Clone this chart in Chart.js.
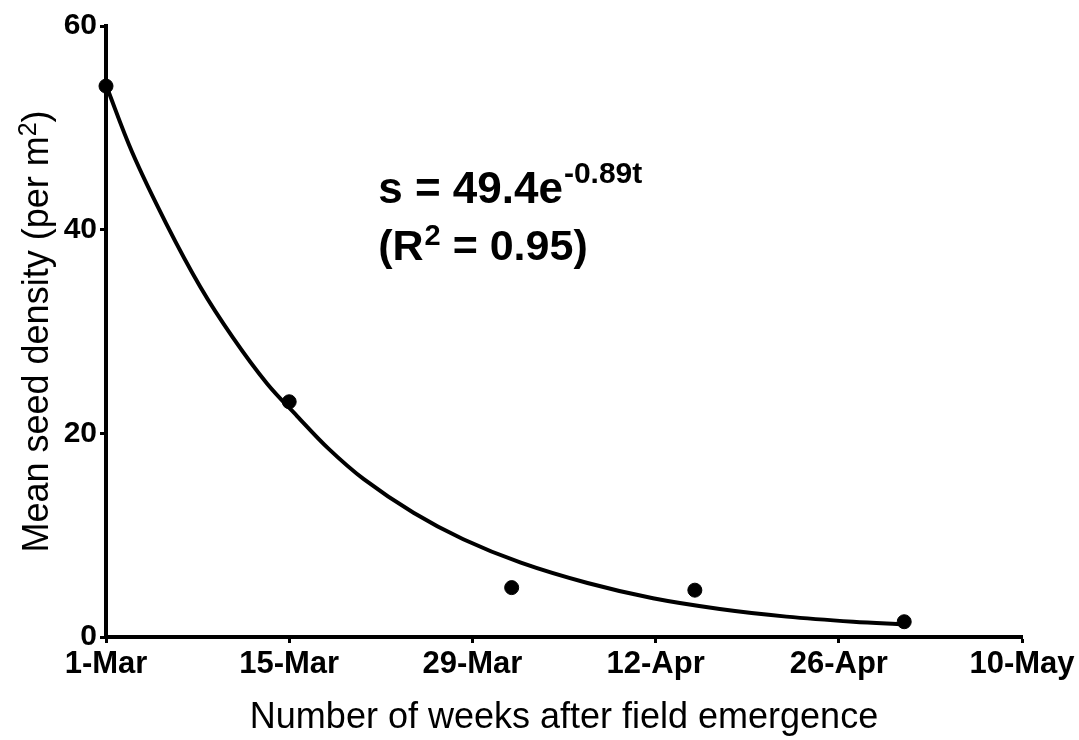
<!DOCTYPE html>
<html>
<head>
<meta charset="utf-8">
<script src="https://cdn.jsdelivr.net/npm/chart.js@4.4.0/dist/chart.umd.min.js"></script>
<style>
  body { margin: 0; background: #fff; }
  #wrap { width: 1079px; height: 740px; }
</style>
</head>
<body>
<div id="wrap"><canvas id="myChart" width="1079" height="740"></canvas></div>
<script>
// x axis runs in days from 1 March, ticks every two weeks
var tickLabels = ['1-Mar', '15-Mar', '29-Mar', '12-Apr', '26-Apr', '10-May'];

// observed means
var obsDays = [0, 14, 31, 45, 61];
var obsDensity = [54.1, 23.1, 4.85, 4.6, 1.5];

// fitted curve
var fitDays = [0, 2, 4.6, 7.2, 9.7, 12.3, 14.6, 17, 19.7, 23.5, 27.3, 31.7, 36.8, 41.8, 46.9, 52, 57.1, 61];
var fitDensity = [54.2, 47.6, 40.6, 34.4, 29.4, 24.9, 21.7, 18.5, 15.5, 12.2, 9.6, 7.3, 5.3, 3.8, 2.75, 2.0, 1.5, 1.25];

var FONT = "'Liberation Sans', Arial, sans-serif";

var fitPts = fitDays.map(function(d, i) { return {x: d, y: fitDensity[i]}; });
var obsPts = obsDays.map(function(d, i) { return {x: d, y: obsDensity[i]}; });

// text drawn over the chart: y title with superscript and the equation
var textPlugin = {
    id: 'texts',
    afterDraw: function(chart) {
        var ctx = chart.ctx;
        var area = chart.chartArea;
        var xs = chart.scales.x, ys = chart.scales.y;
        ctx.save();
        ctx.fillStyle = '#000';
        ctx.textBaseline = 'alphabetic';
        ctx.textAlign = 'left';

        // y axis title
        var main = 'Mean seed density (per m', sup = '2', tail = ')';
        ctx.font = '36px ' + FONT;
        var w1 = ctx.measureText(main).width;
        var w3 = ctx.measureText(tail).width;
        ctx.font = '25px ' + FONT;
        var w2 = ctx.measureText(sup).width;
        var total = w1 + w2 + w3;
        ctx.translate(48, (area.top + area.bottom) / 2);
        ctx.rotate(-Math.PI / 2);
        ctx.font = '36px ' + FONT;
        ctx.fillText(main, -total / 2, 0);
        ctx.font = '25px ' + FONT;
        ctx.fillText(sup, -total / 2 + w1, -12);
        ctx.font = '36px ' + FONT;
        ctx.fillText(tail, -total / 2 + w1 + w2, 0);
        ctx.setTransform(1, 0, 0, 1, 0, 0);

        // equation
        var ax = xs.getPixelForValue(20.8);
        var y1 = ys.getPixelForValue(42.6);
        var y2 = ys.getPixelForValue(37.0);
        ctx.font = 'bold 44px ' + FONT;
        var s1 = 's = 49.4e';
        ctx.fillText(s1, ax, y1);
        var ws1 = ctx.measureText(s1).width;
        ctx.font = 'bold 30px ' + FONT;
        ctx.fillText('-0.89t', ax + ws1 + 1, y1 - 20);

        ctx.font = 'bold 43px ' + FONT;
        ctx.fillText('(R', ax, y2);
        var wr = ctx.measureText('(R').width;
        ctx.font = 'bold 29px ' + FONT;
        ctx.fillText('2', ax + wr + 1, y2 - 15);
        var w2b = ctx.measureText('2').width;
        ctx.font = 'bold 43px ' + FONT;
        ctx.fillText(' = 0.95)', ax + wr + w2b + 1, y2);
        ctx.restore();
    }
};

var ctx = document.getElementById('myChart').getContext('2d');
var myChart = new Chart(ctx, {
    type: 'scatter',
    data: {
        datasets: [{
            label: 'Observed',
            data: obsPts,
            backgroundColor: '#000',
            borderColor: '#000',
            pointRadius: 7,
            pointHoverRadius: 7,
            showLine: false,
            clip: false,
            order: 0
        }, {
            label: 'Fit',
            data: fitPts,
            borderColor: '#000',
            borderWidth: 4,
            pointRadius: 0,
            showLine: true,
            tension: 0.35,
            clip: false,
            order: 1
        }]
    },
    options: {
        responsive: false,
        animation: false,
        layout: {
            padding: {top: 26, right: 57, left: 0, bottom: 0}
        },
        plugins: {
            legend: {display: false},
            tooltip: {enabled: false}
        },
        scales: {
            x: {
                type: 'linear',
                min: 0,
                max: 70,
                afterFit: function(scale) { scale.height = 103; },
                ticks: {
                    stepSize: 14,
                    color: '#000',
                    padding: 3,
                    maxRotation: 0,
                    font: {family: FONT, size: 31, weight: 'bold'},
                    callback: function(v) { return tickLabels[Math.round(v / 14)]; }
                },
                grid: {
                    display: true,
                    drawOnChartArea: false,
                    drawTicks: true,
                    tickLength: 6,
                    tickWidth: 3,
                    tickColor: '#000'
                },
                border: {display: true, color: '#000', width: 4},
                title: {
                    display: true,
                    text: 'Number of weeks after field emergence',
                    color: '#000',
                    font: {family: FONT, size: 36},
                    padding: {top: 6, bottom: 0}
                }
            },
            y: {
                min: 0,
                max: 60,
                afterFit: function(scale) { scale.width = 106; },
                ticks: {
                    stepSize: 20,
                    color: '#000',
                    padding: 3,
                    font: {family: FONT, size: 30, weight: 'bold'}
                },
                grid: {
                    display: true,
                    drawOnChartArea: false,
                    drawTicks: true,
                    tickLength: 6,
                    tickWidth: 3,
                    tickColor: '#000'
                },
                border: {display: true, color: '#000', width: 4}
            }
        }
    },
    plugins: [textPlugin]
});
</script>
</body>
</html>
